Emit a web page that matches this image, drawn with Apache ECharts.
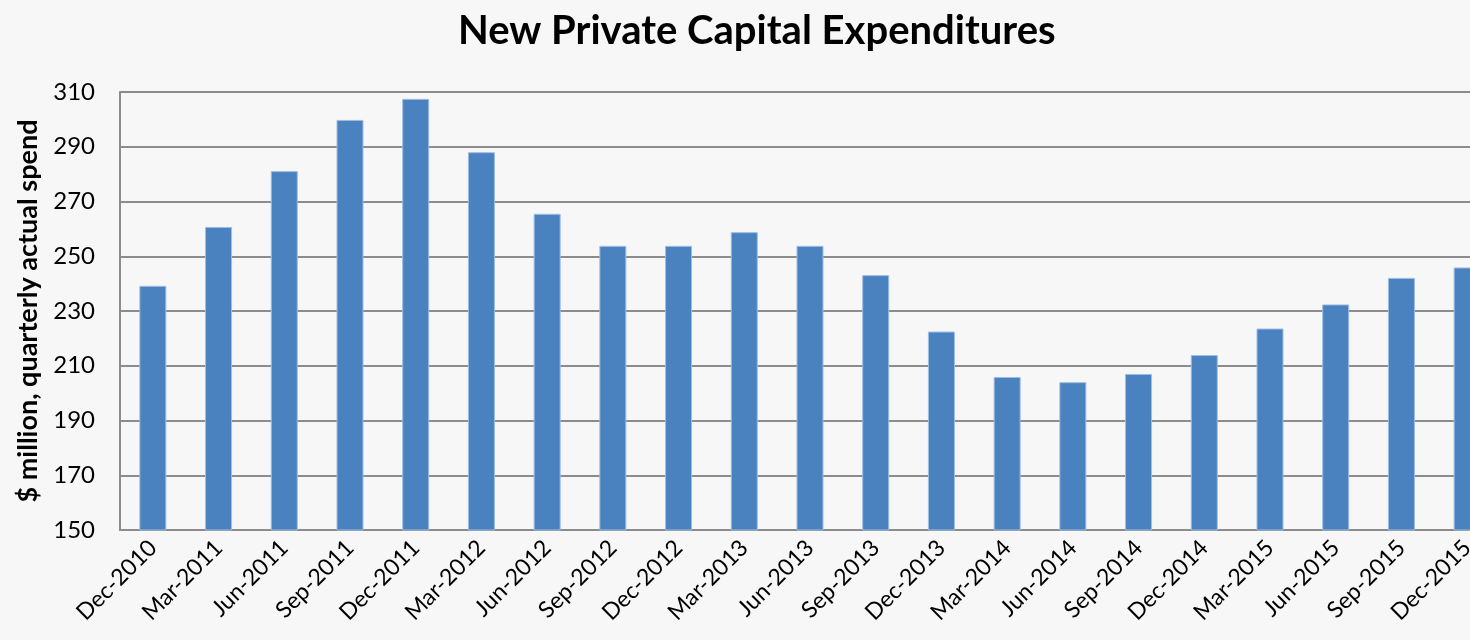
<!DOCTYPE html>
<html>
<head>
<meta charset="utf-8">
<script src="https://cdn.jsdelivr.net/npm/echarts@6/dist/echarts.min.js"></script>
<style>
  html, body { margin: 0; padding: 0; background: #f7f7f7; }
  #chart { width: 1470px; height: 640px; }
</style>
</head>
<body>
<div id="chart"></div>
<script>
// quarterly categories
const quarters = ['Dec-2010', 'Mar-2011', 'Jun-2011', 'Sep-2011', 'Dec-2011', 'Mar-2012', 'Jun-2012',
  'Sep-2012', 'Dec-2012', 'Mar-2013', 'Jun-2013', 'Sep-2013', 'Dec-2013', 'Mar-2014', 'Jun-2014',
  'Sep-2014', 'Dec-2014', 'Mar-2015', 'Jun-2015', 'Sep-2015', 'Dec-2015']
// $ million
const spend = [239.2, 260.7, 281.1, 299.8, 307.5, 288.0, 265.5,
  253.8, 253.8, 258.8, 253.8, 243.1, 222.5, 205.9, 204.0,
  207.0, 213.9, 223.6, 232.4, 242.1, 245.9]
const yMin = 150
const yMax = 310
const yStep = 20

const font = 'Lato, "Open Sans", sans-serif'
const myChart = echarts.init(document.getElementById('chart'))
const option = {
  backgroundColor: '#f7f7f7',
  title: {
    text: 'New Private Capital Expenditures',
    left: 453,
    top: 6,
    textStyle: { fontFamily: font, fontSize: 40, fontWeight: 'bold', color: '#000' }
  },
  // plot runs past the right edge, last bar is cut off in the original
  grid: {
    left: 120,
    top: 92,
    right: -30,
    bottom: 110,
    outerBoundsMode: 'none'
  },
  xAxis: {
    type: 'category',
    data: quarters,
    axisLine: { lineStyle: { color: '#8c8c8c', width: 2 } },
    axisTick: { show: false },
    axisLabel: {
      rotate: 45,
      interval: 0,
      margin: 14,
      fontFamily: font,
      fontSize: 23,
      color: '#000'
    }
  },
  yAxis: {
    type: 'value',
    min: yMin,
    max: yMax,
    interval: yStep,
    name: '$ million, quarterly actual spend',
    nameLocation: 'middle',
    nameGap: 78,
    nameTextStyle: { fontFamily: font, fontSize: 27, fontWeight: 'bold', color: '#000' },
    axisLine: { show: true, lineStyle: { color: '#8c8c8c', width: 2 } },
    axisTick: { show: false },
    splitLine: { lineStyle: { color: '#8c8c8c', width: 2 } },
    axisLabel: {
      margin: 25,
      fontFamily: font,
      fontSize: 24,
      color: '#000'
    }
  },
  series: [
    {
      type: 'bar',
      data: spend,
      barWidth: 27,
      itemStyle: {
        color: '#4a81bf',
        borderColor: '#9dbde3',
        borderWidth: 1
      }
    }
  ]
}
myChart.setOption(option)
</script>
</body>
</html>
